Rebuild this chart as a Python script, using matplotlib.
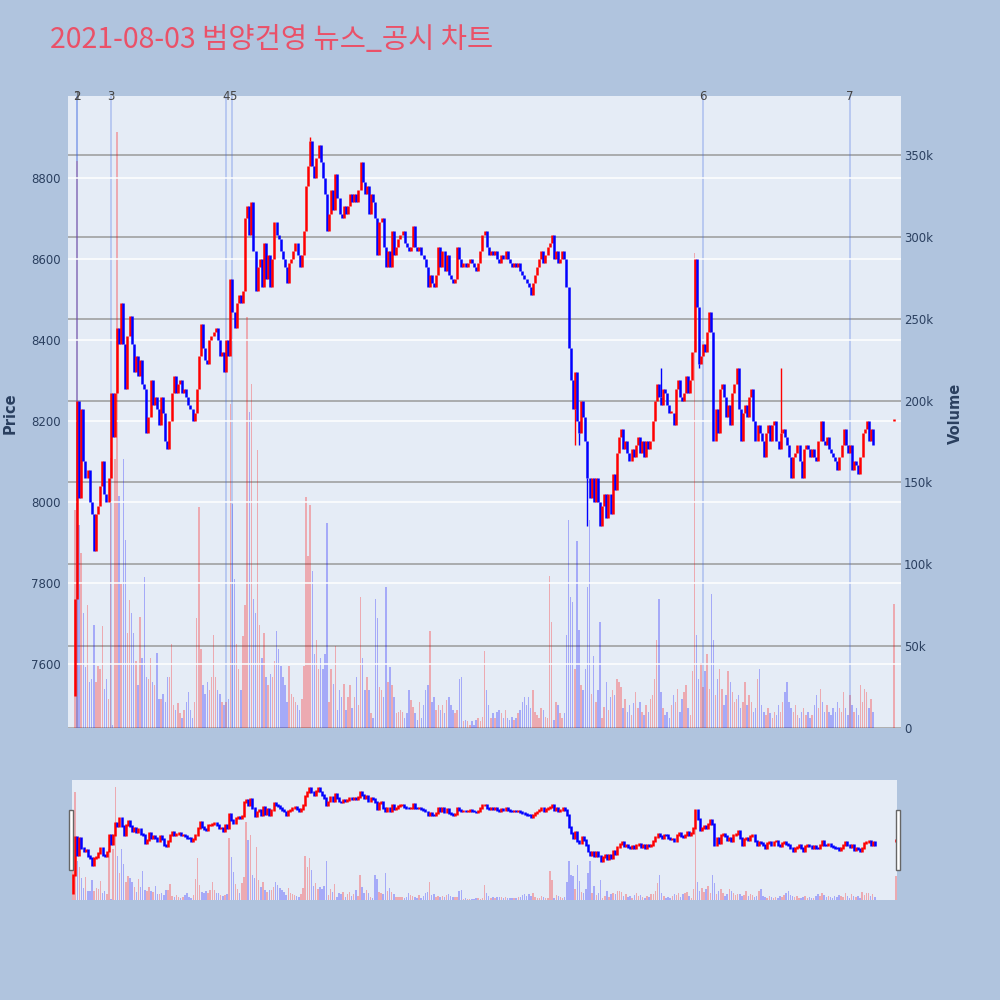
import numpy as np
import matplotlib
matplotlib.use('Agg')
import matplotlib.pyplot as plt
from matplotlib.patches import Rectangle

# 1-minute bars, minute 0 = 09:00 (price in KRW, volume in thousands)
first_open = 7520
close_px = [
    7760, 8250, 8010, 8230, 8100, 8060, 8080, 8000, 7970, 7880,
    7970, 7990, 8040, 8100, 8020, 8000, 8060, 8270, 8160, 8270,
    8430, 8390, 8490, 8390, 8280, 8410, 8460, 8390, 8320, 8360,
    8310, 8350, 8290, 8280, 8170, 8210, 8300, 8240, 8260, 8230,
    8190, 8260, 8220, 8150, 8130, 8200, 8270, 8310, 8270, 8290,
    8300, 8270, 8280, 8260, 8240, 8230, 8200, 8220, 8280, 8360,
    8440, 8380, 8350, 8340, 8400, 8410, 8420, 8430, 8400, 8360,
    8370, 8320, 8400, 8360, 8550, 8470, 8430, 8490, 8510, 8490,
    8520, 8700, 8730, 8660, 8740, 8620, 8520, 8580, 8600, 8530,
    8640, 8550, 8610, 8530, 8600, 8690, 8660, 8650, 8620, 8600,
    8580, 8540, 8590, 8600, 8620, 8640, 8610, 8580, 8610, 8670,
    8780, 8830, 8890, 8830, 8800, 8850, 8880, 8840, 8800, 8760,
    8670, 8710, 8770, 8720, 8810, 8750, 8710, 8700, 8730, 8710,
    8730, 8760, 8740, 8760, 8740, 8770, 8840, 8790, 8760, 8780,
    8710, 8760, 8740, 8700, 8610, 8690, 8700, 8630, 8580, 8620,
    8580, 8670, 8610, 8630, 8650, 8660, 8670, 8640, 8630, 8620,
    8630, 8680, 8630, 8620, 8630, 8610, 8600, 8580, 8530, 8560,
    8540, 8530, 8560, 8630, 8580, 8620, 8570, 8610, 8560, 8550,
    8540, 8550, 8630, 8600, 8580, 8590, 8580, 8590, 8600, 8590,
    8580, 8570, 8590, 8620, 8660, 8670, 8630, 8610, 8620, 8610,
    8620, 8600, 8590, 8610, 8600, 8620, 8600, 8590, 8580, 8590,
    8580, 8590, 8570, 8560, 8550, 8540, 8530, 8510, 8540, 8560,
    8580, 8600, 8620, 8590, 8610, 8630, 8640, 8660, 8600, 8620,
    8590, 8600, 8620, 8600, 8530, 8380, 8300, 8230, 8320, 8200,
    8170, 8250, 8210, 8150, 8060, 8010, 8060, 8000, 8060, 8000,
    7940, 7990, 8020, 7960, 8020, 7970, 8070, 8030, 8120, 8160,
    8180, 8130, 8150, 8120, 8100, 8130, 8110, 8140, 8160, 8120,
    8150, 8110, 8150, 8130, 8150, 8200, 8250, 8290, 8260, 8240,
    8280, 8270, 8240, 8220, 8220, 8190, 8280, 8300, 8260, 8250,
    8270, 8310, 8270, 8300, 8370, 8600, 8480, 8340, 8360, 8390,
    8370, 8420, 8470, 8420, 8150, 8230, 8170, 8280, 8290, 8260,
    8210, 8240, 8190, 8270, 8290, 8330, 8230, 8150, 8220, 8240,
    8210, 8260, 8280, 8200, 8150, 8190, 8170, 8150, 8110, 8170,
    8190, 8150, 8190, 8200, 8150, 8130, 8170, 8180, 8160, 8140,
    8110, 8060, 8110, 8120, 8140, 8100, 8060, 8130, 8140, 8130,
    8110, 8130, 8110, 8100, 8150, 8200, 8150, 8140, 8160, 8130,
    8120, 8110, 8100, 8080, 8110, 8140, 8180, 8140, 8120, 8140,
    8080, 8100, 8090, 8070, 8110, 8170, 8180, 8200, 8150, 8180,
    8140,
]
volume_k = [
    133, 346, 124, 107, 70, 37, 75, 28, 30, 63,
    28, 38, 36, 62, 24, 30, 18, 165, 2, 164,
    364, 142, 88, 164, 115, 58, 78, 70, 58, 41,
    26, 68, 43, 92, 31, 30, 43, 28, 26, 46,
    18, 18, 21, 16, 31, 31, 51, 14, 11, 15,
    9, 6, 11, 16, 22, 11, 6, 16, 67, 135,
    48, 26, 21, 28, 23, 31, 57, 31, 23, 21,
    16, 14, 16, 18, 198, 137, 91, 51, 36, 23,
    56, 75, 251, 193, 210, 79, 70, 170, 63, 43,
    58, 31, 26, 33, 31, 41, 59, 48, 38, 31,
    26, 16, 38, 21, 19, 16, 14, 11, 18, 38,
    141, 105, 136, 96, 45, 54, 36, 43, 36, 45,
    125, 16, 36, 27, 50, 11, 23, 19, 27, 11,
    19, 26, 12, 19, 31, 14, 80, 43, 23, 31,
    23, 9, 6, 79, 67, 25, 23, 19, 86, 28,
    37, 26, 19, 9, 10, 11, 10, 6, 9, 23,
    17, 13, 9, 5, 16, 6, 14, 23, 26, 59,
    16, 19, 11, 14, 11, 14, 9, 17, 19, 14,
    11, 9, 11, 30, 31, 4, 5, 4, 2, 4,
    2, 5, 6, 4, 7, 47, 23, 14, 6, 9,
    6, 10, 11, 9, 6, 11, 6, 5, 7, 5,
    6, 9, 11, 16, 19, 14, 19, 12, 23, 10,
    8, 6, 12, 11, 7, 6, 93, 65, 5, 16,
    14, 9, 6, 9, 57, 127, 80, 77, 36, 114,
    60, 26, 23, 36, 86, 127, 21, 44, 16, 23,
    65, 6, 13, 28, 11, 19, 23, 20, 30, 28,
    25, 12, 18, 10, 14, 8, 15, 22, 12, 16,
    10, 8, 14, 10, 18, 20, 30, 54, 79, 22,
    12, 8, 10, 6, 14, 20, 16, 24, 10, 18,
    22, 26, 12, 8, 35, 290, 57, 30, 40, 25,
    35, 45, 24, 82, 54, 20, 30, 36, 24, 14,
    20, 35, 28, 22, 16, 18, 20, 12, 16, 28,
    14, 20, 16, 10, 12, 30, 36, 14, 10, 8,
    12, 9, 6, 10, 8, 14, 10, 16, 22, 28,
    16, 12, 10, 14, 8, 6, 10, 12, 8, 10,
    6, 8, 14, 20, 12, 24, 16, 10, 14, 10,
    8, 12, 10, 16, 12, 10, 22, 12, 8, 20,
    14, 10, 12, 8, 26, 16, 24, 22, 12, 18,
    10,
]
wick_lo = {238: 8140, 240: 8140, 244: 7940, 297: 8330}
wick_hi = {279: 8330, 112: 8900, 336: 8330}

# closing single-price auction at 15:30
auction_min = 390
auction_px = 8200
auction_vol_k = 76

event_min = [1, 1, 17, 72, 75, 299, 369]
event_lbl = ['1', '2', '3', '4', '5', '6', '7']

title = '2021-08-03 범양건영 뉴스_공시 차트'
tick_min = [0, 60, 120, 180, 240, 300, 360]
tick_lbl = ['09:00\nAug 3, 2021', '10:00', '11:00', '12:00', '13:00', '14:00', '15:00']

t = list(range(len(close_px))) + [auction_min]
cl = np.array(close_px + [auction_px], dtype=float)
op = np.array([first_open] + close_px[:-1] + [auction_px], dtype=float)
vol = np.array(volume_k + [auction_vol_k], dtype=float)
up = cl >= op
ccol = np.where(up, '#ff0000', '#0000ff')
vcol = [(1, 0, 0, 0.28) if u else (0, 0, 1, 0.28) for u in up]
lo = np.minimum(op, cl)
hi = np.maximum(op, cl)
# flat bars still show as a short tick
hi_draw = np.maximum(hi, lo + 5)

txt = '#2a3f5f'
fig = plt.figure(figsize=(10, 10), dpi=100)
fig.patch.set_facecolor('#B0C4DE')

# main panel
ax_v = fig.add_axes([0.068, 0.272, 0.833, 0.632])
ax_v.set_facecolor('#E5ECF6')
ax_p = ax_v.twinx()

ax_v.bar(t, vol, width=0.7, color=vcol, zorder=2)
ax_v.set_ylim(0, 386)
ax_v.set_yticks(range(0, 351, 50))
ax_v.set_yticklabels(['0'] + ['%dk' % v for v in range(50, 351, 50)])
ax_v.yaxis.tick_right()
ax_v.grid(axis='y', color='#9a9a9a', lw=1.1, zorder=0)
ax_v.axhline(0, color='white', lw=2, zorder=1)

ax_p.grid(axis='y', color='white', lw=1.1)
for m in event_min:
    ax_p.axvline(m, color=(0.25, 0.41, 0.88, 0.35), lw=1.1, zorder=1)
for m, s in zip(event_min, event_lbl):
    ax_p.text(m, 1.0, s, transform=ax_p.get_xaxis_transform(), ha='center',
              va='center', fontsize=8.5, color='#444444', clip_on=False)
for m, v in wick_lo.items():
    ax_p.vlines(m, v, lo[m], colors=ccol[m], lw=1.0, zorder=3)
for m, v in wick_hi.items():
    ax_p.vlines(m, hi[m], v, colors=ccol[m], lw=1.0, zorder=3)
lc = ax_p.vlines(t, lo, hi_draw, colors=ccol, lw=1.8, zorder=4)
ax_p.set_ylim(7442, 9002)
ax_p.set_yticks(range(7600, 8801, 200))
ax_p.yaxis.tick_left()
ax_p.set_xlim(-3.3, 393.3)
ax_p.set_xticks(tick_min)
ax_p.set_xticklabels(tick_lbl)

for a in (ax_v, ax_p):
    for sp in a.spines.values():
        sp.set_visible(False)
    a.tick_params(length=0, labelsize=8.5, labelcolor=txt)
ax_p.tick_params(axis='x', pad=8)
ax_p.tick_params(axis='y', pad=5)
ax_v.tick_params(axis='y', pad=2)
ax_v.tick_params(axis='x', labelbottom=False)

# range slider
ax_s = fig.add_axes([0.072, 0.100, 0.825, 0.120])
ax_s.set_facecolor('#E5ECF6')
ax_s.bar(t, vol, width=0.7, color=vcol)
ax_s.set_ylim(0, 386)
ax_s2 = ax_s.twinx()
ax_s2.vlines(t, lo, hi_draw + 25, colors=ccol, lw=1.8)
ax_s2.set_ylim(7442, 9002)
ax_s.set_xlim(-0.5, 390.5)
for a in (ax_s, ax_s2):
    a.set_xticks([])
    a.set_yticks([])
    for sp in a.spines.values():
        sp.set_visible(False)
for x0 in (0.069, 0.896):
    fig.add_artist(Rectangle((x0, 0.130), 0.004, 0.060, transform=fig.transFigure,
                             facecolor='white', edgecolor='#666666', lw=1))

fig.text(0.05, 0.960, title, fontsize=20.5, color='#EA5168', ha='left', va='center',
         family=['Noto Sans CJK KR', 'DejaVu Sans'])
fig.text(0.010, 0.587, 'Price', rotation=90, ha='center', va='center',
         fontsize=10.5, fontweight='bold', color=txt)
fig.text(0.955, 0.587, 'Volume', rotation=90, ha='center', va='center',
         fontsize=10.5, fontweight='bold', color=txt)

fig.savefig('out.png', dpi=100, facecolor=fig.get_facecolor())
